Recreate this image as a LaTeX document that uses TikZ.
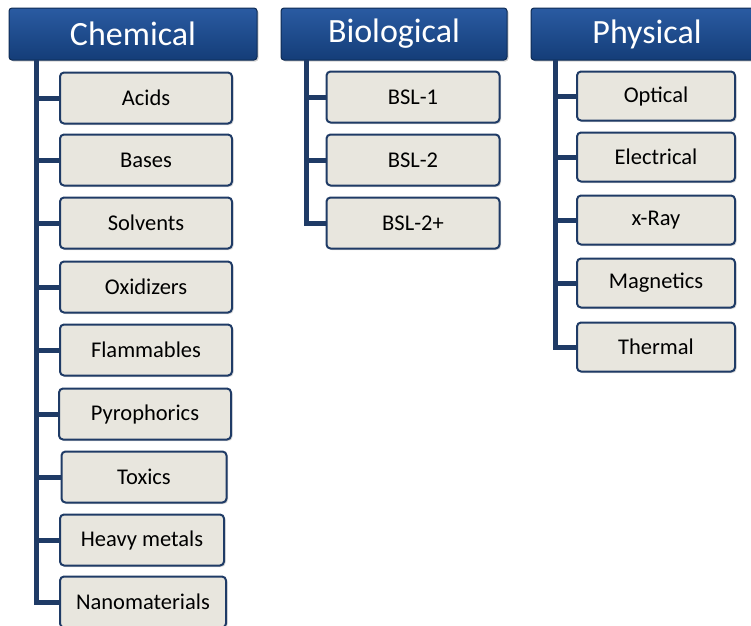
\documentclass[tikz,border=0pt]{standalone}
\usepackage{fontspec}
\setmainfont{Carlito}
\usetikzlibrary{shadows}
\definecolor{hdrtop}{HTML}{2A5BA2}
\definecolor{hdrbot}{HTML}{143D78}
\definecolor{trunkblue}{HTML}{1F3B66}
\definecolor{boxfill}{HTML}{E8E6DE}

\begin{document}
\begin{tikzpicture}[x=1pt, y=-1pt,
    hdr/.style={draw=hdrbot!70!black, line width=1pt, rounded corners=3pt,
      top color=hdrtop, bottom color=hdrbot, text=white,
      font=\fontsize{34}{34}\selectfont, minimum height=52pt, inner sep=0pt,
      drop shadow={shadow xshift=1.5pt, shadow yshift=-1.5pt, opacity=0.35}},
    item/.style={draw=trunkblue, line width=2pt, rounded corners=4pt, fill=boxfill,
      font=\fontsize{22.5}{22.5}\selectfont, minimum height=51pt, minimum width=172pt,
      inner sep=0pt,
      drop shadow={shadow xshift=1.5pt, shadow yshift=-1.5pt, opacity=0.3}},
    trunk/.style={draw=trunkblue, line width=5pt}]
    \useasboundingbox (0,0) rectangle (751,625);
    % headers
    \node[hdr, minimum width=248pt] (chem) at (133, 34) {Chemical};
    \node[hdr, minimum width=226pt] (bio) at (394, 34) {Biological};
    \node[hdr, minimum width=232pt] (phys) at (647, 34) {Physical};
    \coordinate (chemtrunk) at (36, 60);
    \coordinate (biotrunk) at (306, 60);
    \coordinate (phystrunk) at (555, 60);
    % chemical
    \node[item] (acids) at (146, 98) {Acids};
    \node[item] (bases) at (146, 160) {Bases};
    \node[item] (solv) at (146, 223) {Solvents};
    \node[item] (oxid) at (146, 287) {Oxidizers};
    \node[item] (flam) at (146, 350) {Flammables};
    \node[item] (pyro) at (145, 414) {Pyrophorics};
    \node[item, minimum width=165pt] (tox) at (144, 477) {Toxics};
    \node[item, minimum width=164pt] (heavy) at (142, 540) {Heavy metals};
    \node[item, minimum width=166pt] (nano) at (143, 602) {Nanomaterials};
    % biological
    \node[item, minimum width=173pt] (bsla) at (413, 97) {BSL-1};
    \node[item, minimum width=173pt] (bslb) at (413, 160) {BSL-2};
    \node[item, minimum width=173pt] (bslc) at (413, 223) {BSL-2+};
    % physical
    \node[item, minimum width=158pt, minimum height=49pt] (opt) at (656, 96) {Optical};
    \node[item, minimum width=158pt, minimum height=49pt] (elec) at (656, 157) {Electrical};
    \node[item, minimum width=158pt, minimum height=49pt] (xray) at (656, 220) {x-Ray};
    \node[item, minimum width=158pt, minimum height=49pt] (magn) at (656, 283) {Magnetics};
    \node[item, minimum width=158pt, minimum height=49pt] (therm) at (656, 347) {Thermal};
    % trunks
    \draw[trunk] (chemtrunk) |- (nano.west);
    \draw[trunk] (acids.west) -- (acids.west -| chemtrunk);
    \draw[trunk] (bases.west) -- (bases.west -| chemtrunk);
    \draw[trunk] (solv.west) -- (solv.west -| chemtrunk);
    \draw[trunk] (oxid.west) -- (oxid.west -| chemtrunk);
    \draw[trunk] (flam.west) -- (flam.west -| chemtrunk);
    \draw[trunk] (pyro.west) -- (pyro.west -| chemtrunk);
    \draw[trunk] (tox.west) -- (tox.west -| chemtrunk);
    \draw[trunk] (heavy.west) -- (heavy.west -| chemtrunk);
    \draw[trunk] (biotrunk) |- (bslc.west);
    \draw[trunk] (bsla.west) -- (bsla.west -| biotrunk);
    \draw[trunk] (bslb.west) -- (bslb.west -| biotrunk);
    \draw[trunk] (phystrunk) |- (therm.west);
    \draw[trunk] (opt.west) -- (opt.west -| phystrunk);
    \draw[trunk] (elec.west) -- (elec.west -| phystrunk);
    \draw[trunk] (xray.west) -- (xray.west -| phystrunk);
    \draw[trunk] (magn.west) -- (magn.west -| phystrunk);
\end{tikzpicture}
\end{document}
